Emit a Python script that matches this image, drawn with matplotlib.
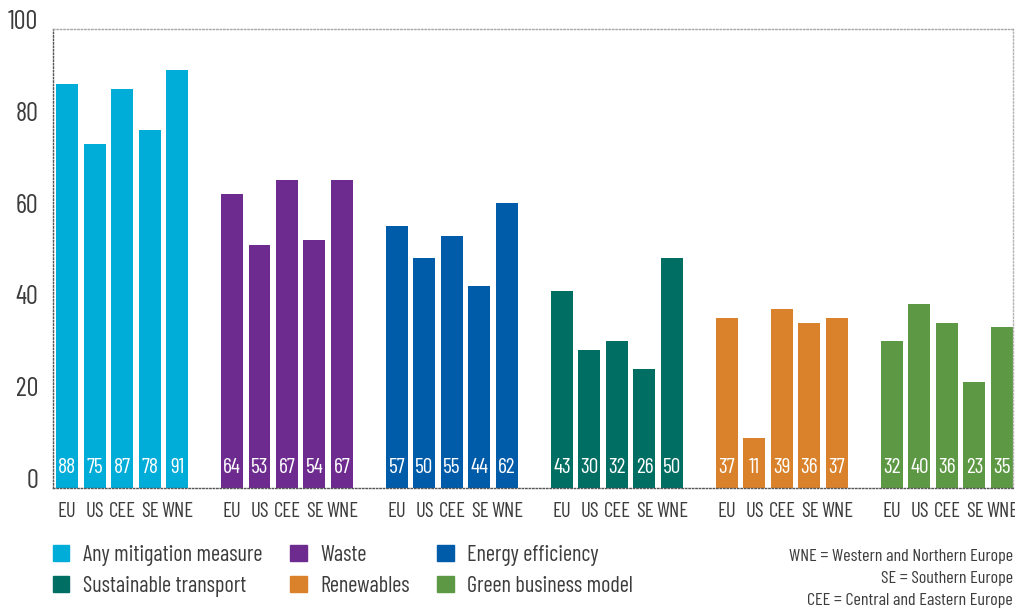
"""Share of firms taking climate mitigation measures, by region."""
import matplotlib
matplotlib.use("Agg")
import matplotlib.pyplot as plt
from matplotlib.patches import Patch

plt.rcParams["font.family"] = ["Barlow Condensed", "PT Sans Narrow", "DejaVu Sans"]

# --------------------------------------------------------------------------- #
# Data
# --------------------------------------------------------------------------- #
regions = ["EU", "US", "CEE", "SE", "WNE"]
measures = ["Any mitigation measure", "Waste", "Energy efficiency",
            "Sustainable transport", "Renewables", "Green business model"]
any_mitigation = [88, 75, 87, 78, 91]
waste = [64, 53, 67, 54, 67]
energy_efficiency = [57, 50, 55, 44, 62]
sustainable_transport = [43, 30, 32, 26, 50]
renewables = [37, 11, 39, 36, 37]
green_business = [32, 40, 36, 23, 35]
series = [any_mitigation, waste, energy_efficiency,
          sustainable_transport, renewables, green_business]
colours = ["#00acd8", "#6e2b8f", "#005ba9", "#006e63", "#d9822b", "#5d9944"]
notes = ["WNE = Western and Northern Europe",
         "SE = Southern Europe",
         "CEE = Central and Eastern Europe"]

TEXT = "#3c3c3c"
GROUP_STEP = 6

fig = plt.figure(figsize=(10.15, 6.1), dpi=100)
ax = fig.add_axes([0.0522, 0.2, 0.9458, 0.7525])

ticks, ticklabels = [], []
for g, (vals, col) in enumerate(zip(series, colours)):
    xs = [g * GROUP_STEP + i for i in range(len(regions))]
    ax.bar(xs, vals, width=0.8, color=col, zorder=2)
    for x, v in zip(xs, vals):
        ax.text(x, 4.4, f"{v}", ha="center", va="center", color="white",
                fontsize=15.5, zorder=3)
    ticks += xs
    ticklabels += regions

ax.set_xlim(-0.51, 34.4)
ax.set_ylim(0, 100)
ax.set_xticks(ticks)
ax.set_xticklabels(ticklabels, fontsize=15, color=TEXT)
ax.tick_params(axis="x", length=0, pad=10)
ax.set_yticks([])
ytrans = ax.get_yaxis_transform()
for v in range(0, 101, 20):
    ax.text(-0.0156, v, f"{v}", transform=ytrans, ha="right", va="baseline",
            fontsize=19, color=TEXT)

for side, c in [("top", "#a8a8a8"), ("right", "#b4b4b4"),
                ("left", "#555555"), ("bottom", "#555555")]:
    ax.spines[side].set_linestyle((0, (1, 1.5)))
    ax.spines[side].set_color(c)
    ax.spines[side].set_linewidth(1.0)

# legend, filled column-wise so rows read left to right
order = [0, 3, 1, 4, 2, 5]
handles = [Patch(color=colours[i], label=measures[i]) for i in order]
fig.legend(handles=handles, ncol=3, loc="upper left",
           bbox_to_anchor=(0.052, 0.107), frameon=False, fontsize=16,
           handlelength=0.75, handleheight=0.75, handletextpad=0.6,
           columnspacing=1.25, labelspacing=0.45, labelcolor=TEXT,
           borderaxespad=0, borderpad=0)

for k, line in enumerate(notes):
    fig.text(0.998, 1 - (556 + 22 * k) / 610, line, ha="right", va="center",
             fontsize=13, color=TEXT)

fig.savefig("out.png", dpi=100)
